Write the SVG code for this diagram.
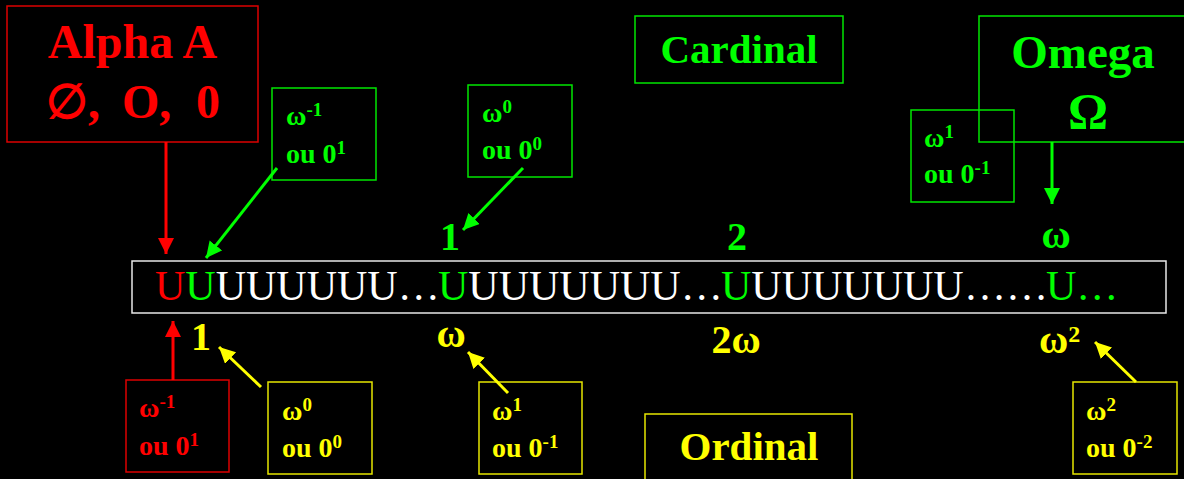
<svg xmlns="http://www.w3.org/2000/svg" width="1184" height="479" viewBox="0 0 1184 479" font-family="'Liberation Serif', 'DejaVu Serif', serif">
<style>
text{font-family:'Liberation Serif','DejaVu Serif',serif;font-weight:bold}
.r{fill:#ff0000}.g{fill:#00ff00}.y{fill:#ffff00}.w{fill:#ffffff}
.box{fill:none;stroke-width:1.5}
.br{stroke:#dd0000}.bg{stroke:#00e600}.by{stroke:#e6e600}
.big{font-size:47px}.mid{font-size:41px}.num{font-size:40px}
.lab{font-size:28px}.sup{font-size:19px}
.strip{font-size:42px;font-weight:normal}
.ar{stroke-width:3;fill:none}
</style>
<defs>
<marker id="hr" markerUnits="userSpaceOnUse" markerWidth="17" markerHeight="17" refX="16" refY="8" orient="auto"><path d="M0,0 L16,8 L0,16 z" fill="#ff0000"/></marker>
<marker id="hg" markerUnits="userSpaceOnUse" markerWidth="17" markerHeight="17" refX="16" refY="8" orient="auto"><path d="M0,0 L16,8 L0,16 z" fill="#00ff00"/></marker>
<marker id="hy" markerUnits="userSpaceOnUse" markerWidth="17" markerHeight="17" refX="16" refY="8" orient="auto"><path d="M0,0 L16,8 L0,16 z" fill="#ffff00"/></marker>
</defs>
<rect width="1184" height="479" fill="#000"/>

<g id="alpha">
<rect class="box br" x="7" y="6" width="251" height="136"/>
<text class="r" font-size="48" x="132.5" y="58" text-anchor="middle">Alpha A</text>
<text class="r" font-size="48" y="118"><tspan x="46">∅,</tspan><tspan x="122">O,</tspan><tspan x="196">0</tspan></text>
</g>

<g id="cardinal">
<rect class="box bg" x="635" y="16" width="208" height="67"/>
<text class="mid g" x="739" y="63" text-anchor="middle">Cardinal</text>
</g>

<g id="omega">
<rect class="box bg" x="979" y="16" width="215" height="126"/>
<text class="big g" x="1083" y="68" text-anchor="middle">Omega</text>
<text class="g" font-size="50" x="1088" y="128" text-anchor="middle">Ω</text>
</g>

<g id="g-w-1">
<rect class="box bg" x="272" y="88" width="104" height="92"/>
<text class="lab g" x="286" y="125">ω<tspan class="sup" dy="-9">-1</tspan></text>
<text class="lab g" x="286" y="163">ou 0<tspan class="sup" dy="-9">1</tspan></text>
</g>

<g id="g-w0">
<rect class="box bg" x="468" y="85" width="104" height="92"/>
<text class="lab g" x="482" y="122">ω<tspan class="sup" dy="-9">0</tspan></text>
<text class="lab g" x="482" y="159">ou 0<tspan class="sup" dy="-9">0</tspan></text>
</g>

<g id="g-w1">
<rect class="box bg" x="911" y="110" width="103" height="92"/>
<text class="lab g" x="924" y="147">ω<tspan class="sup" dy="-9">1</tspan></text>
<text class="lab g" x="924" y="183">ou 0<tspan class="sup" dy="-9">-1</tspan></text>
</g>

<g id="card-labels">
<text class="num g" x="450" y="250" text-anchor="middle">1</text>
<text class="num g" x="737" y="250" text-anchor="middle">2</text>
<text class="num g" x="1056" y="248" text-anchor="middle">ω</text>
</g>

<g id="strip">
<rect x="132" y="261" width="1034" height="52" fill="none" stroke="#e8e8e8" stroke-width="1.5"/>
<text class="strip" y="300"><tspan x="155" class="r">U</tspan><tspan class="g">U</tspan><tspan class="w">UUUUUU…</tspan><tspan x="438" class="g">U</tspan><tspan class="w">UUUUUUU…</tspan><tspan x="721" class="g">U</tspan><tspan class="w">UUUUUUU</tspan><tspan x="964" class="w">……</tspan><tspan x="1046" class="g">U…</tspan></text>
</g>

<g id="ord-labels">
<text class="num y" x="201" y="350" text-anchor="middle">1</text>
<text class="num y" x="451" y="347" text-anchor="middle">ω</text>
<text class="num y" x="736" y="353" text-anchor="middle">2ω</text>
<text class="num y" x="1039" y="353">ω<tspan font-size="24" dy="-11">2</tspan></text>
</g>

<g id="r-w-1">
<rect class="box br" x="126" y="380" width="103" height="92"/>
<text class="lab r" x="139" y="417">ω<tspan class="sup" dy="-9">-1</tspan></text>
<text class="lab r" x="139" y="455">ou 0<tspan class="sup" dy="-9">1</tspan></text>
</g>

<g id="y-w0">
<rect class="box by" x="268" y="382" width="104" height="92"/>
<text class="lab y" x="282" y="420">ω<tspan class="sup" dy="-9">0</tspan></text>
<text class="lab y" x="282" y="457">ou 0<tspan class="sup" dy="-9">0</tspan></text>
</g>

<g id="y-w1">
<rect class="box by" x="479" y="382" width="103" height="92"/>
<text class="lab y" x="492" y="420">ω<tspan class="sup" dy="-9">1</tspan></text>
<text class="lab y" x="492" y="457">ou 0<tspan class="sup" dy="-9">-1</tspan></text>
</g>

<g id="ordinal">
<rect class="box by" x="645" y="414" width="207" height="70"/>
<text class="mid y" x="749" y="460" text-anchor="middle">Ordinal</text>
</g>

<g id="y-w2">
<rect class="box by" x="1073" y="382" width="104" height="92"/>
<text class="lab y" x="1086" y="420">ω<tspan class="sup" dy="-9">2</tspan></text>
<text class="lab y" x="1086" y="457">ou 0<tspan class="sup" dy="-9">-2</tspan></text>
</g>

<g id="connectors">
<line class="ar" stroke="#ff0000" x1="166" y1="142" x2="166" y2="254" marker-end="url(#hr)"/>
<line class="ar" stroke="#00ff00" x1="277" y1="168" x2="206" y2="258" marker-end="url(#hg)"/>
<line class="ar" stroke="#00ff00" x1="523" y1="168" x2="463" y2="230" marker-end="url(#hg)"/>
<line class="ar" stroke="#00ff00" x1="1052" y1="142" x2="1052" y2="204" marker-end="url(#hg)"/>
<line class="ar" stroke="#ff0000" x1="173" y1="380" x2="173" y2="321" marker-end="url(#hr)"/>
<line class="ar" stroke="#ffff00" x1="261" y1="387" x2="219" y2="347" marker-end="url(#hy)"/>
<line class="ar" stroke="#ffff00" x1="508" y1="393" x2="468" y2="352" marker-end="url(#hy)"/>
<line class="ar" stroke="#ffff00" x1="1136" y1="382" x2="1095" y2="342" marker-end="url(#hy)"/>
</g>
</svg>
